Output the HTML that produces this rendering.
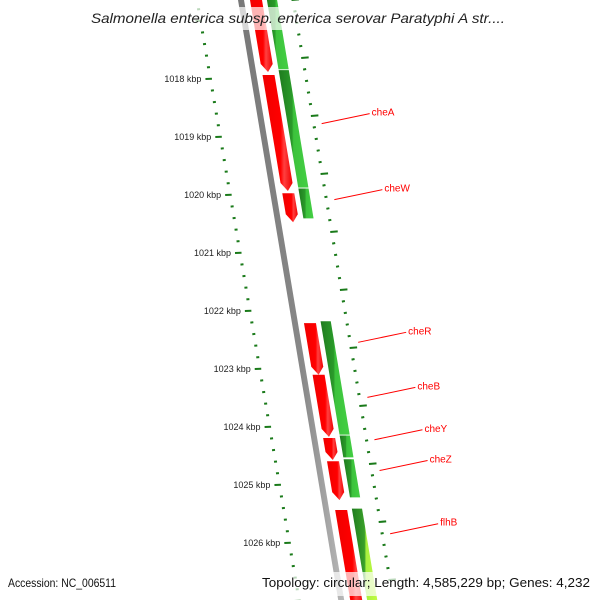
<!DOCTYPE html>
<html><head><meta charset="utf-8"><style>
body{margin:0;background:#fff}
svg{display:block;font-family:"Liberation Sans",sans-serif}
</style></head><body>
<svg id="map" width="600" height="600" viewBox="0 0 600 600">
<defs>
<linearGradient id="redG" x1="0" x2="1"><stop offset="0" stop-color="#f00000"/><stop offset="0.6" stop-color="#ff0000"/><stop offset="0.72" stop-color="#ff4040"/><stop offset="1" stop-color="#f00000"/></linearGradient>
<linearGradient id="grnG" x1="0" x2="1"><stop offset="0" stop-color="#1e7a1e"/><stop offset="0.45" stop-color="#2a9a2a"/><stop offset="0.5" stop-color="#3cc23c"/><stop offset="1" stop-color="#44d044"/></linearGradient>
<linearGradient id="ylwG" x1="0" x2="1"><stop offset="0" stop-color="#1e7a1e"/><stop offset="0.45" stop-color="#3aa02a"/><stop offset="0.5" stop-color="#a8f040"/><stop offset="1" stop-color="#c8ff40"/></linearGradient>
<linearGradient id="grayG" x1="0" x2="1"><stop offset="0" stop-color="#777"/><stop offset="0.6" stop-color="#888"/><stop offset="1" stop-color="#bbb"/></linearGradient>
</defs>
<g id="layer"></g>
<rect x="85" y="7" width="430" height="23" fill="#fff" opacity="0.7"/>
<text x="91" y="23" textLength="414" lengthAdjust="spacingAndGlyphs" font-size="14" font-style="italic" fill="#222">Salmonella enterica subsp. enterica serovar Paratyphi A str....</text>
<rect x="0" y="572" width="600" height="24" fill="#fff" opacity="0.7"/>
<text x="8" y="587" font-size="12" textLength="108" lengthAdjust="spacingAndGlyphs" fill="#111">Accession: NC_006511</text>
<text x="262" y="587" font-size="13" textLength="328" lengthAdjust="spacingAndGlyphs" fill="#111">Topology: circular; Length: 4,585,229 bp; Genes: 4,232</text>
</svg>
<script>
const tickKbp=[1018,1019,1020,1021,1022,1023,1024,1025,1026];
const tickLabels=["1018 kbp","1019 kbp","1020 kbp","1021 kbp","1022 kbp","1023 kbp","1024 kbp","1025 kbp","1026 kbp"];
const redStarts=[1016.5,1017.93,1019.97,1022.21,1023.10,1024.19,1024.59,1025.43];
const redEnds=[1017.88,1019.93,1020.47,1023.10,1024.17,1024.57,1025.26,1027.3];
const greenStarts=[1016.3,1017.84,1019.88,1022.17,1024.14,1024.55,1025.40];
const greenEnds=[1017.84,1019.88,1020.41,1024.14,1024.53,1025.22,1027.3];
const geneNames=["cheA","cheW","cheR","cheB","cheY","cheZ","flhB"];
const geneLabelKbp=[1018.77,1020.08,1022.54,1023.49,1024.22,1024.75,1025.84];

const NS="http://www.w3.org/2000/svg";
const layer=document.getElementById('layer');
const S=0.167;
function yOf(k){return 79+58*(k-1018);}
function xAt(x0,y){return x0+S*y;}
function mk(tag,attrs){const e=document.createElementNS(NS,tag);for(const a in attrs)e.setAttribute(a,attrs[a]);layer.appendChild(e);return e;}

const bb=mk('polygon',{points:`${xAt(238,-10)},-10 ${xAt(244,-10)},-10 ${xAt(244,610)},610 ${xAt(238,610)},610`,fill:'url(#grayG)'});



for(let k=1016;k<=1027.01;k+=0.2){
  const y=yOf(k), x=197+0.17*y;
  const major=Math.abs(k-Math.round(k))<0.01;
  const d=mk('line',{x1:major?x-5:x-1.5,y1:y,x2:x+1.5,y2:y-0.3,stroke:'#1a7a1a','stroke-width':2});
  
  
}
tickKbp.forEach((k,i)=>{
  const y=yOf(k), x=197+0.17*y;
  const t=mk('text',{x:x-9,y:y+3,'font-size':9,fill:'#222','text-anchor':'end'});
  t.textContent=tickLabels[i];
  
  
});
for(let k=1016;k<=1027.01;k+=0.2){
  const y=yOf(k)-21, x=293+S*y;
  const major=Math.abs(k-Math.round(k))<0.01;
  const d=mk('line',{x1:x-1.5,y1:y,x2:major?x+6:x+1.5,y2:y-0.6,stroke:'#1a7a1a','stroke-width':2});
  
  
}
redStarts.forEach((s,i)=>{
  const y1=yOf(s), y2=yOf(redEnds[i]), c=256, h=6, tip=8;
  const pts=[[c-h,y1],[c+h,y1],[c+h,y2-tip],[c,y2],[c-h,y2-tip]].map(p=>`${p[0]+S*p[1]},${p[1]}`).join(' ');
  const g=mk('polygon',{points:pts,fill:'url(#redG)'});
  
  
});
greenStarts.forEach((s,i)=>{
  const y1=yOf(s), y2=yOf(greenEnds[i]), c=272, h=5.5;
  const pts=[[c-h,y1],[c+h,y1],[c+h,y2],[c-h,y2]].map(p=>`${p[0]+S*p[1]},${p[1]}`).join(' ');
  const g=mk('polygon',{points:pts,fill:i===6?'url(#ylwG)':'url(#grnG)',stroke:'#fff','stroke-width':0.8});
  
  
});
geneNames.forEach((n,i)=>{
  const y=yOf(geneLabelKbp[i]), x=301+S*y;
  const l=mk('line',{x1:x,y1:y,x2:x+48,y2:y-10,stroke:'#f00','stroke-width':1});
  
  
  const t=mk('text',{x:x+50,y:y-8,'font-size':10,fill:'#f00'});
  t.textContent=n;
  
  
});
</script>
</body></html>
